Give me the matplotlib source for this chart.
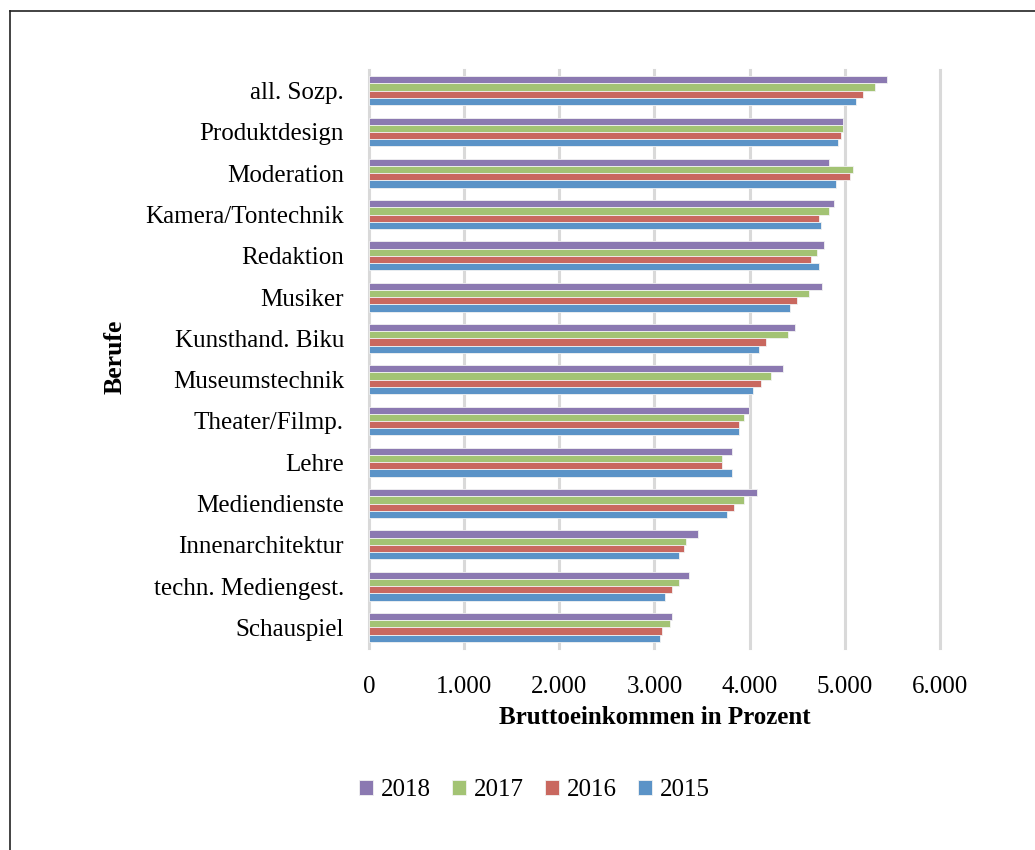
import matplotlib
matplotlib.use("Agg")
import matplotlib.pyplot as plt
import numpy as np
from matplotlib.lines import Line2D

# Berufe, top to bottom as shown
berufe = ["all. Sozp.", "Produktdesign", "Moderation", "Kamera/Tontechnik",
          "Redaktion", "Musiker", "Kunsthand. Biku", "Museumstechnik",
          "Theater/Filmp.", "Lehre", "Mediendienste", "Innenarchitektur",
          "techn. Mediengest.", "Schauspiel"]

v2018 = [5440, 4985, 4835, 4885, 4780, 4760, 4480, 4350, 3995, 3820, 4075, 3460, 3360, 3180]
v2017 = [5315, 4985, 5090, 4835, 4705, 4630, 4400, 4225, 3940, 3715, 3945, 3335, 3260, 3160]
v2016 = [5190, 4960, 5060, 4730, 4650, 4500, 4175, 4120, 3890, 3715, 3840, 3310, 3180, 3080]
v2015 = [5115, 4935, 4910, 4755, 4730, 4425, 4095, 4040, 3890, 3820, 3765, 3260, 3110, 3055]

years = ["2018", "2017", "2016", "2015"]
series = [v2018, v2017, v2016, v2015]
colors = ["#8B79B1", "#A3C374", "#C9685F", "#5B93C7"]

xticks = [0, 1000, 2000, 3000, 4000, 5000, 6000]
xticklabels = ["0", "1.000", "2.000", "3.000", "4.000", "5.000", "6.000"]

plt.rcParams["font.family"] = ["Liberation Serif", "DejaVu Serif"]

fig = plt.figure(figsize=(10.35, 8.5), dpi=100)
ax = fig.add_axes([0.3565, 0.2376, 0.5515, 0.68])

y = np.arange(len(berufe))
h = 0.175
for i, (vals, c, yr) in enumerate(zip(series, colors, years)):
    ax.barh(y - 1.5 * h + i * h, vals, height=h, color=c, edgecolor="#f2f2f2",
            linewidth=0.6, label=yr, zorder=3)

ax.set_ylim(len(berufe) - 0.5, -0.5)
ax.set_xlim(0, 6000)
ax.set_yticks(y)
ax.set_yticklabels(berufe, fontsize=18)
ax.set_xticks(xticks)
ax.set_xticklabels(xticklabels, fontsize=18)
ax.tick_params(axis="y", length=0, pad=18)
ax.tick_params(axis="x", length=0, pad=20)
for s in ax.spines.values():
    s.set_visible(False)
ax.xaxis.grid(True, color="#d9d9d9", linewidth=2.2)
for gl in ax.get_xgridlines():
    gl.set_clip_on(False)
ax.set_axisbelow(True)

ax.set_xlabel("Bruttoeinkommen in Prozent", fontsize=18, fontweight="bold", labelpad=6)
fig.text(0.111, 0.58, "Berufe", rotation=90, fontsize=18.5, fontweight="bold",
         ha="center", va="center")

ax.legend(loc="center", bbox_to_anchor=(0.29, -0.246), ncol=4, frameon=False,
          fontsize=18, handlelength=0.55, handleheight=0.55, handletextpad=0.3,
          columnspacing=0.87, bbox_transform=ax.transAxes)

# outer frame
fig.add_artist(Line2D([10 / 1035, 10 / 1035], [0, 1 - 11 / 850], color="#222222",
                      linewidth=1.2, transform=fig.transFigure))
fig.add_artist(Line2D([10 / 1035, 1], [1 - 11 / 850, 1 - 11 / 850], color="#222222",
                      linewidth=1.2, transform=fig.transFigure))

fig.savefig("out.png", dpi=100)
